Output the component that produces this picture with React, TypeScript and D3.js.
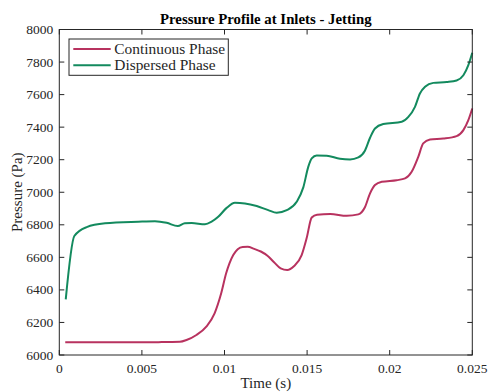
import { useEffect, useRef } from 'react';
import * as d3 from 'd3';

// time (s) / pressure (Pa)
const contTime = [0.00036, 0.002, 0.004, 0.006, 0.0073, 0.0077, 0.0083, 0.0089, 0.0094, 0.0098, 0.0101, 0.0103, 0.01053, 0.0108, 0.0111, 0.0114, 0.0118, 0.0122, 0.0126, 0.013, 0.0134, 0.0138, 0.0142, 0.01467, 0.01497, 0.01528, 0.0156, 0.0164, 0.0174, 0.0181, 0.0185, 0.01881, 0.01911, 0.01952, 0.02042, 0.02093, 0.02133, 0.02173, 0.02203, 0.02244, 0.02324, 0.02405, 0.02446, 0.02476, 0.025];
const contPressure = [6078, 6078, 6078, 6079, 6081, 6092, 6123, 6174, 6256, 6379, 6502, 6563, 6614, 6650, 6664, 6665, 6652, 6636, 6610, 6570, 6532, 6522, 6545, 6614, 6717, 6845, 6862, 6866, 6855, 6864, 6908, 6993, 7044, 7064, 7074, 7085, 7126, 7218, 7300, 7324, 7330, 7345, 7382, 7443, 7515];

const dispTime = [0.00039, 0.00091, 0.00166, 0.00277, 0.00478, 0.00579, 0.0065, 0.00717, 0.0076, 0.00801, 0.00882, 0.00922, 0.00962, 0.01013, 0.01063, 0.01124, 0.01195, 0.01265, 0.01316, 0.01377, 0.01437, 0.01477, 0.01507, 0.01528, 0.01558, 0.01619, 0.01699, 0.0176, 0.0181, 0.0185, 0.01881, 0.01911, 0.01961, 0.02073, 0.02113, 0.02153, 0.02183, 0.02214, 0.02264, 0.02345, 0.02405, 0.02446, 0.02476, 0.025];
const dispPressure = [6342, 6731, 6786, 6809, 6819, 6822, 6812, 6792, 6809, 6811, 6803, 6819, 6849, 6904, 6935, 6931, 6915, 6890, 6874, 6890, 6941, 7030, 7156, 7208, 7226, 7224, 7206, 7202, 7214, 7255, 7335, 7392, 7419, 7433, 7463, 7525, 7607, 7648, 7672, 7677, 7687, 7719, 7781, 7857];

const seriesNames = ['Continuous Phase', 'Dispersed Phase'];
const seriesColors = ['#b8325f', '#138a5e'];
const xTicks = [0, 0.005, 0.01, 0.015, 0.02, 0.025];
const xTickLabels = ['0', '0.005', '0.01', '0.015', '0.02', '0.025'];
const yTicks = [6000, 6200, 6400, 6600, 6800, 7000, 7200, 7400, 7600, 7800, 8000];

const W = 489;
const H = 392;
const margin = { top: 29.5, right: 16.7, bottom: 37, left: 59.3 };
const FONT = '"Liberation Serif", "Times New Roman", serif';

export default function App() {
  const svgRef = useRef<SVGSVGElement>(null);

  useEffect(() => {
    const svg = d3.select(svgRef.current);
    svg.selectAll('*').remove();

    const x = d3.scaleLinear().domain([0, 0.025]).range([margin.left, W - margin.right]);
    const y = d3.scaleLinear().domain([6000, 8000]).range([H - margin.bottom, margin.top]);
    const tickLen = 5;

    // series
    const series = [
      contTime.map((t, i) => [t, contPressure[i]] as [number, number]),
      dispTime.map((t, i) => [t, dispPressure[i]] as [number, number]),
    ];
    const line = d3.line<[number, number]>()
      .x(d => x(d[0]))
      .y(d => y(d[1]))
      .curve(d3.curveMonotoneX);

    series.forEach((s, i) => {
      svg.append('path')
        .attr('d', line(s))
        .attr('fill', 'none')
        .attr('stroke', seriesColors[i])
        .attr('stroke-width', 2)
        .attr('stroke-linejoin', 'round');
    });

    // axes box
    const g = svg.append('g').attr('stroke', '#262626').attr('stroke-width', 1).attr('fill', 'none');
    g.append('rect')
      .attr('x', x(0))
      .attr('y', y(8000))
      .attr('width', x(0.025) - x(0))
      .attr('height', y(6000) - y(8000));

    xTicks.forEach(t => {
      g.append('line').attr('x1', x(t)).attr('x2', x(t)).attr('y1', y(6000)).attr('y2', y(6000) - tickLen);
      g.append('line').attr('x1', x(t)).attr('x2', x(t)).attr('y1', y(8000)).attr('y2', y(8000) + tickLen);
    });
    yTicks.forEach(v => {
      g.append('line').attr('x1', x(0)).attr('x2', x(0) + tickLen).attr('y1', y(v)).attr('y2', y(v));
      g.append('line').attr('x1', x(0.025)).attr('x2', x(0.025) - tickLen).attr('y1', y(v)).attr('y2', y(v));
    });

    // tick labels
    svg.append('g').selectAll('text').data(xTicks).enter().append('text')
      .attr('x', d => x(d))
      .attr('y', y(6000) + 18)
      .attr('text-anchor', 'middle')
      .attr('font-family', FONT)
      .attr('font-size', 13.5)
      .attr('fill', '#262626')
      .text((d, i) => xTickLabels[i]);

    svg.append('g').selectAll('text').data(yTicks).enter().append('text')
      .attr('x', x(0) - 6)
      .attr('y', d => y(d) + 4.5)
      .attr('text-anchor', 'end')
      .attr('font-family', FONT)
      .attr('font-size', 13.5)
      .attr('fill', '#262626')
      .text(d => String(d));

    // title and axis labels
    svg.append('text')
      .attr('x', (x(0) + x(0.025)) / 2)
      .attr('y', 24)
      .attr('text-anchor', 'middle')
      .attr('font-family', FONT)
      .attr('font-weight', 'bold')
      .attr('font-size', 14.8)
      .attr('fill', '#000')
      .text('Pressure Profile at Inlets - Jetting');

    svg.append('text')
      .attr('x', (x(0) + x(0.025)) / 2)
      .attr('y', 388)
      .attr('text-anchor', 'middle')
      .attr('font-family', FONT)
      .attr('font-size', 15)
      .attr('fill', '#262626')
      .text('Time (s)');

    svg.append('text')
      .attr('transform', `translate(22,${(y(6000) + y(8000)) / 2}) rotate(-90)`)
      .attr('text-anchor', 'middle')
      .attr('font-family', FONT)
      .attr('font-size', 15)
      .attr('fill', '#262626')
      .text('Pressure (Pa)');

    // legend
    const lg = svg.append('g');
    lg.append('rect')
      .attr('x', 69)
      .attr('y', 39)
      .attr('width', 159.3)
      .attr('height', 36.3)
      .attr('fill', '#fff')
      .attr('stroke', '#262626')
      .attr('stroke-width', 1);
    seriesNames.forEach((name, i) => {
      const ly = 49 + i * 16.3;
      lg.append('line')
        .attr('x1', 73.3).attr('x2', 110.7)
        .attr('y1', ly).attr('y2', ly)
        .attr('stroke', seriesColors[i])
        .attr('stroke-width', 2);
      lg.append('text')
        .attr('x', 114.3)
        .attr('y', ly + 4.8)
        .attr('font-family', FONT)
        .attr('font-size', 15.4)
        .attr('fill', '#262626')
        .text(name);
    });
  }, []);

  return <svg ref={svgRef} width={W} height={H} style={{ display: 'block', position: 'absolute', left: 0, top: 0, background: '#fff' }} />;
}
